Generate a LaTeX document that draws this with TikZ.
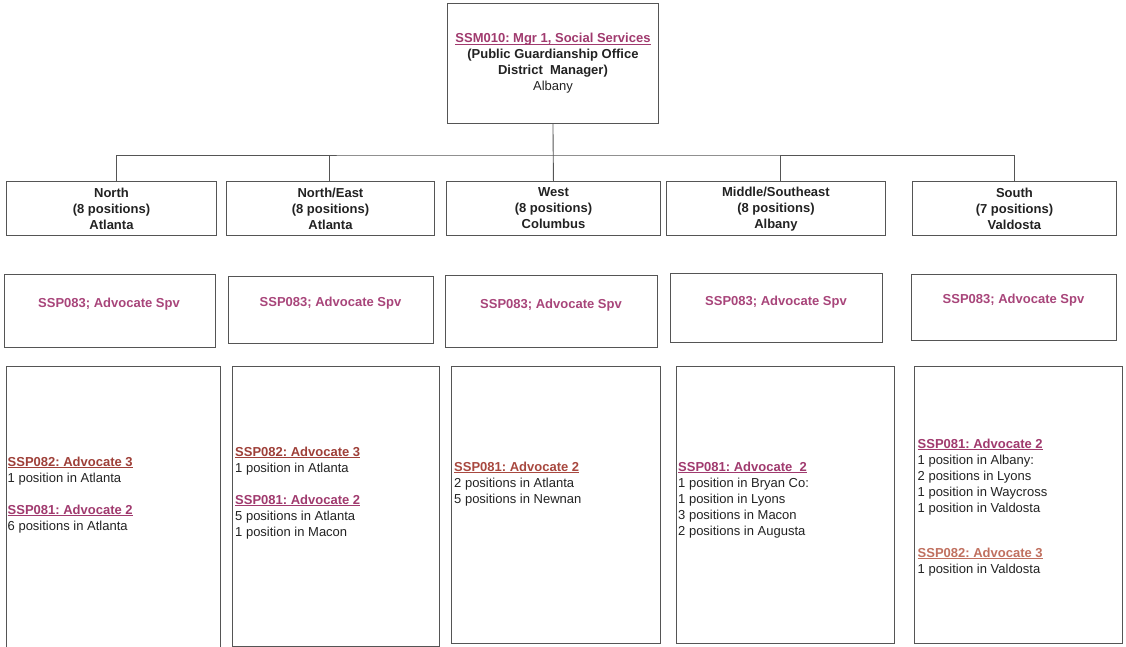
\documentclass[tikz,border=0pt]{standalone}
\usepackage{fontspec}
\setmainfont{Liberation Sans}
\frenchspacing
\definecolor{mag}{HTML}{A03A6E}
\definecolor{magl}{HTML}{A8457A}
\definecolor{rust}{HTML}{9E3F38}
\definecolor{rustw}{HTML}{A8483F}
\definecolor{rustlt}{HTML}{C0705F}
\definecolor{edge}{HTML}{555555}
\definecolor{txtc}{HTML}{222222}
\newcommand{\fs}{\fontsize{13}{16}\selectfont\frenchspacing}
\newcommand{\hd}[2]{\textcolor{#1}{\bfseries\underline{\raisebox{0pt}[\height][0pt]{#2}}}}
\begin{document}
\begin{tikzpicture}[x=1pt,y=-1pt,
  box/.style={draw=edge,line width=0.9pt,inner sep=0pt,anchor=north west,align=center,font=\fs\bfseries,text=txtc},
  lbl/.style={anchor=base,inner sep=0pt,font=\fs\bfseries,text=magl},
  txt/.style={anchor=north west,inner sep=0pt,align=left,font=\fs,text=txtc},
  conn/.style={draw=edge,line width=0.9pt}]
\useasboundingbox (0,0) rectangle (1126,647);
% top
\node[box,minimum width=211pt,minimum height=120pt] (top) at (447,3)
  {\hd{mag}{SSM010: Mgr 1, Social Services}\\(Public Guardianship Office\\District\ \ Manager)\\{\mdseries Albany}};
% regions
\node[box,minimum width=210pt,minimum height=54pt] (r1) at (6,181) {North\\(8 positions)\\Atlanta};
\node[box,minimum width=208pt,minimum height=54pt] (r2) at (226,181) {North/East\\(8 positions)\\Atlanta};
\node[box,minimum width=214pt,minimum height=54pt] (r3) at (446,181) {West\\(8 positions)\\Columbus};
\node[box,minimum width=219pt,minimum height=54pt] (r4) at (666,181) {\strut Middle/Southeast\\(8 positions)\\Albany};
\node[box,minimum width=204pt,minimum height=54pt] (r5) at (912,181) {South\\(7 positions)\\Valdosta};
% supervisors
\node[box,minimum width=211pt,minimum height=73pt] (s1) at (4,274) {};
\node[box,minimum width=205pt,minimum height=67pt] (s2) at (228,276) {};
\node[box,minimum width=212pt,minimum height=72pt] (s3) at (445,275) {};
\node[box,minimum width=212pt,minimum height=69pt] (s4) at (670,273) {};
\node[box,minimum width=205pt,minimum height=66pt] (s5) at (911,274) {};
\node[lbl] (l1) at (109,307.5) {SSP083; Advocate Spv};
\node[lbl] (l2) at (330.5,306.5) {SSP083; Advocate Spv};
\node[lbl] (l3) at (551,308) {SSP083; Advocate Spv};
\node[lbl] (l4) at (776,305) {SSP083; Advocate Spv};
\node[lbl] (l5) at (1013.5,303.5) {SSP083; Advocate Spv};
% positions boxes
\node[box,minimum width=214pt,minimum height=284pt] (p1) at (6,366) {};
\node[box,minimum width=207pt,minimum height=279.5pt] (p2) at (232,366) {};
\node[box,minimum width=209pt,minimum height=276.5pt] (p3) at (451,366) {};
\node[box,minimum width=218pt,minimum height=276.5pt] (p4) at (676,366) {};
\node[box,minimum width=208pt,minimum height=276.5pt] (p5) at (914,366) {};
% positions text
\node[txt] (t1) at (7.5,456.5) {\hd{rust}{SSP082: Advocate 3}\\1 position in Atlanta\\[16pt]\hd{mag}{SSP081: Advocate 2}\\6 positions in Atlanta};
\node[txt] (t2) at (235,446.5) {\hd{rust}{SSP082: Advocate 3}\\1 position in Atlanta\\[16pt]\hd{mag}{SSP081: Advocate 2}\\5 positions in Atlanta\\1 position in Macon};
\node[txt] (t3) at (454,461.5) {\hd{rustw}{SSP081: Advocate 2}\\2 positions in Atlanta\\5 positions in Newnan};
\node[txt] (t4) at (678,461.5) {\hd{mag}{SSP081: Advocate\ \ 2}\\1 position in Bryan Co:\\1 position in Lyons\\3 positions in Macon\\2 positions in Augusta};
\node[txt] (t5) at (917.5,438.5) {\hd{mag}{SSP081: Advocate 2}\\1 position in Albany:\\2 positions in Lyons\\1 position in Waycross\\1 position in Valdosta\\[29pt]\hd{rustlt}{SSP082: Advocate 3}\\1 position in Valdosta};
% connectors
\coordinate (bus) at (552.5,155);
\draw[conn] (top.south) -- (r3.north);
\draw[conn] ([xshift=5pt]r1.north) |- (bus) -| (r5.north);
\draw[conn] ([xshift=-1pt]r2.north) -- ([xshift=-1pt]r2.north |- bus);
\draw[conn] ([xshift=4.5pt]r4.north) -- ([xshift=4.5pt]r4.north |- bus);
\end{tikzpicture}
\end{document}
